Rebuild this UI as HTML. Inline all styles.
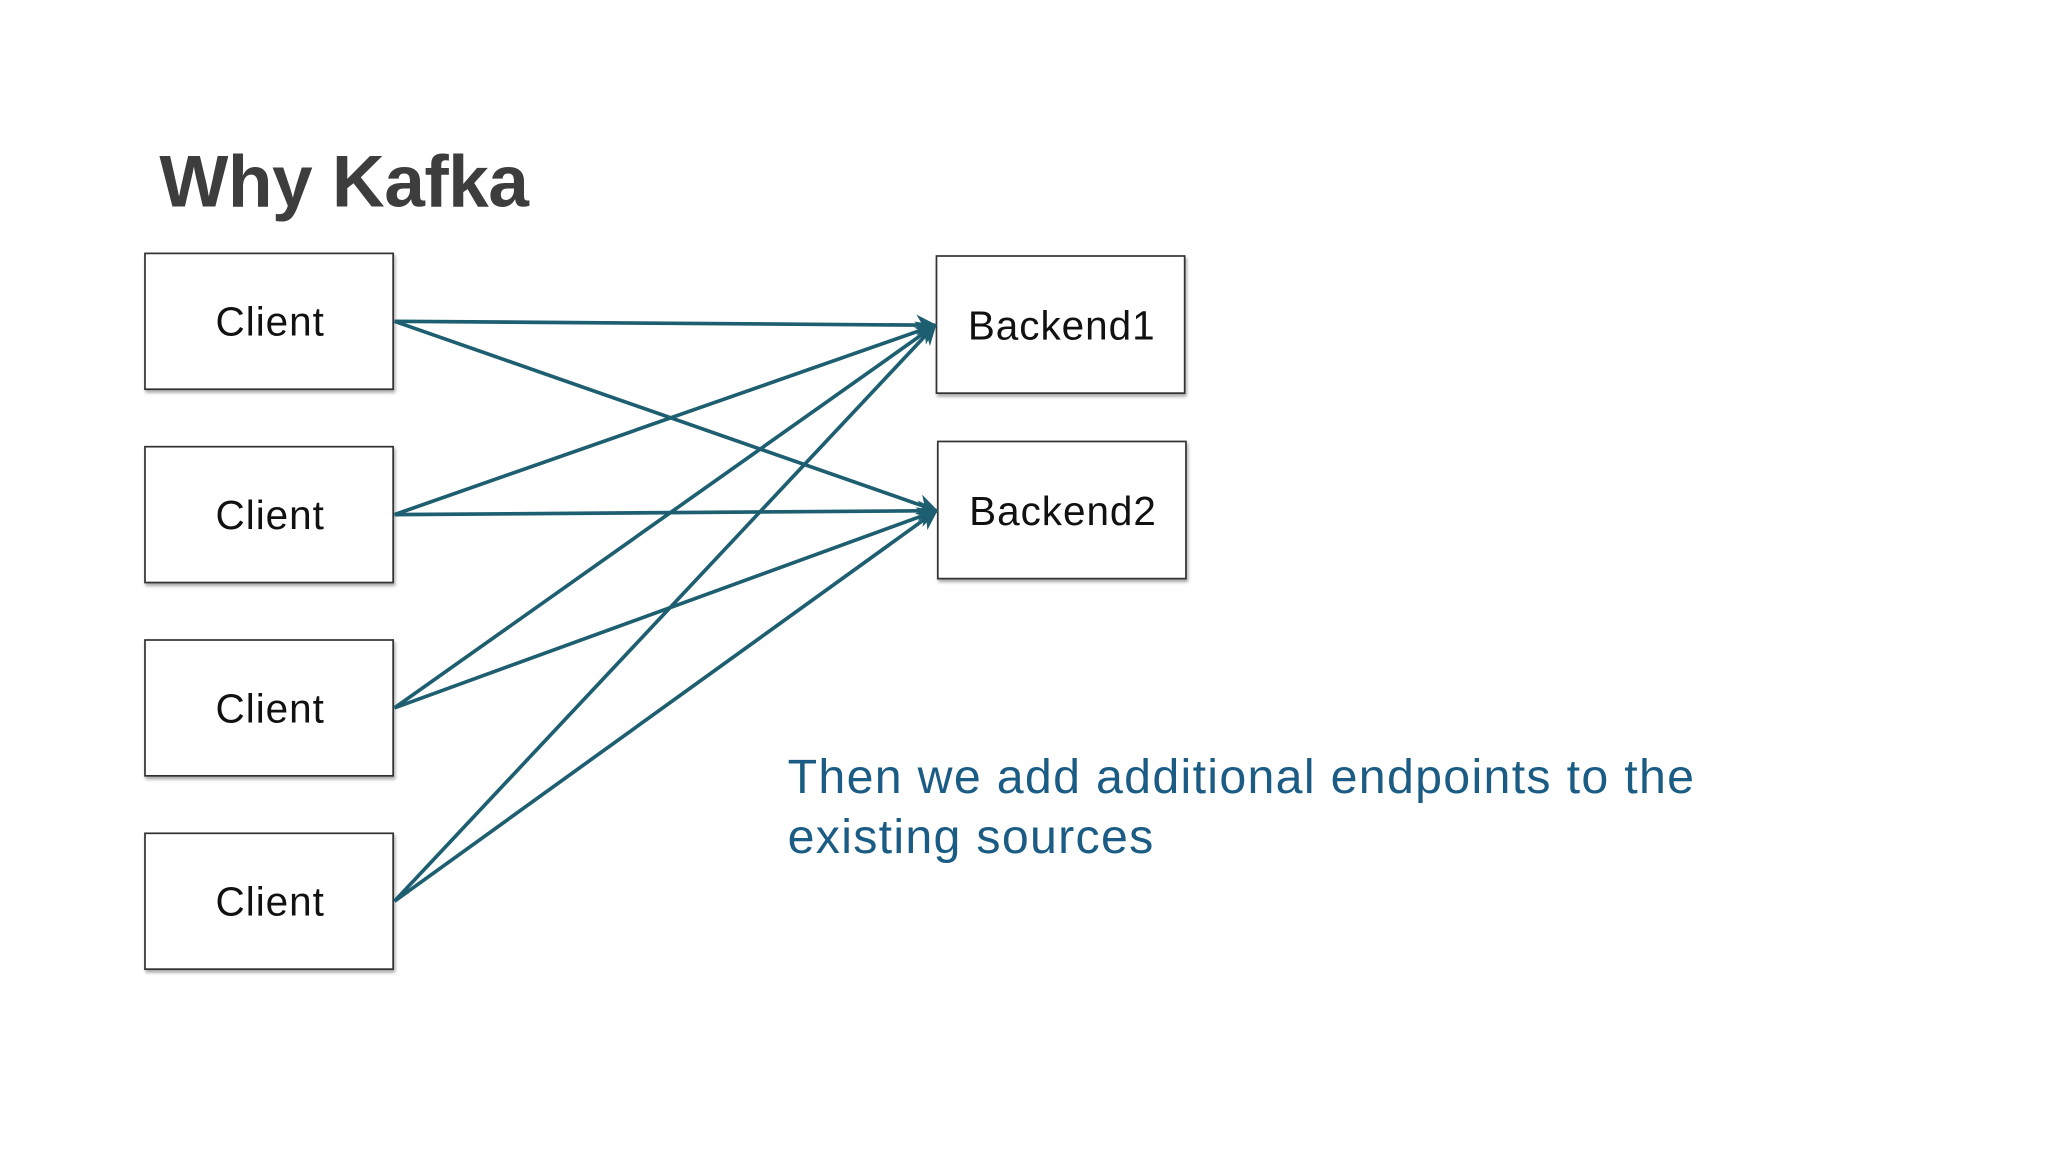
<!DOCTYPE html>
<html><head><meta charset="utf-8"><style>
html,body{margin:0;padding:0;background:#fff;}
svg{display:block}
</style></head><body>
<svg width="2048" height="1152" viewBox="0 0 1568 882" preserveAspectRatio="none" xmlns="http://www.w3.org/2000/svg">
<defs>
<marker id="b" viewBox="0 0 10 10" refX="9" refY="5" markerWidth="16" markerHeight="16" orient="auto" markerUnits="userSpaceOnUse">
<path d="M0,0 L10,5 L0,10 L3,5 Z" fill="#1d5e70"/>
</marker>
<filter id="s" x="-5%" y="-5%" width="115%" height="120%"><feDropShadow dx="1" dy="2" stdDeviation="1.2" flood-color="#000" flood-opacity="0.35"/></filter>
</defs>
<rect width="1568" height="882" fill="#fff"/>
<text x="122" y="158" font-family="Liberation Sans, sans-serif" font-weight="bold" font-size="56" fill="#3d3d3d" textLength="283">Why Kafka</text>
<g fill="#fff" stroke="#333" stroke-width="1.3" filter="url(#s)">
<rect x="111" y="194" width="190" height="104"/>
<rect x="111" y="342" width="190" height="104"/>
<rect x="111" y="490" width="190" height="104"/>
<rect x="111" y="638" width="190" height="104"/>
<rect x="717" y="196" width="190" height="105"/>
<rect x="718" y="338" width="190" height="105"/>
</g>
<g font-family="Liberation Sans, sans-serif" font-size="31" fill="#111">
<text x="165" y="257" textLength="83">Client</text>
<text x="165" y="405" textLength="83">Client</text>
<text x="165" y="553" textLength="83">Client</text>
<text x="165" y="701" textLength="83">Client</text>
<text x="741" y="260" textLength="143">Backend1</text>
<text x="742" y="402" textLength="143">Backend2</text>
</g>
<g stroke="#1d5e70" stroke-width="2.8" fill="none" marker-end="url(#b)">
<line x1="302" y1="246" x2="716" y2="249"/>
<line x1="302" y1="246" x2="717" y2="391"/>
<line x1="302" y1="394" x2="716" y2="249"/>
<line x1="302" y1="394" x2="717" y2="391"/>
<line x1="302" y1="542" x2="716" y2="249"/>
<line x1="302" y1="542" x2="717" y2="391"/>
<line x1="302" y1="690" x2="716" y2="249"/>
<line x1="302" y1="690" x2="717" y2="391"/>
</g>
<g font-family="Liberation Sans, sans-serif" font-size="37" fill="#1b5c85">
<text x="603" y="607" textLength="694">Then we add additional endpoints to the</text>
<text x="603" y="653" textLength="280">existing sources</text>
</g>
</svg>
</body></html>
